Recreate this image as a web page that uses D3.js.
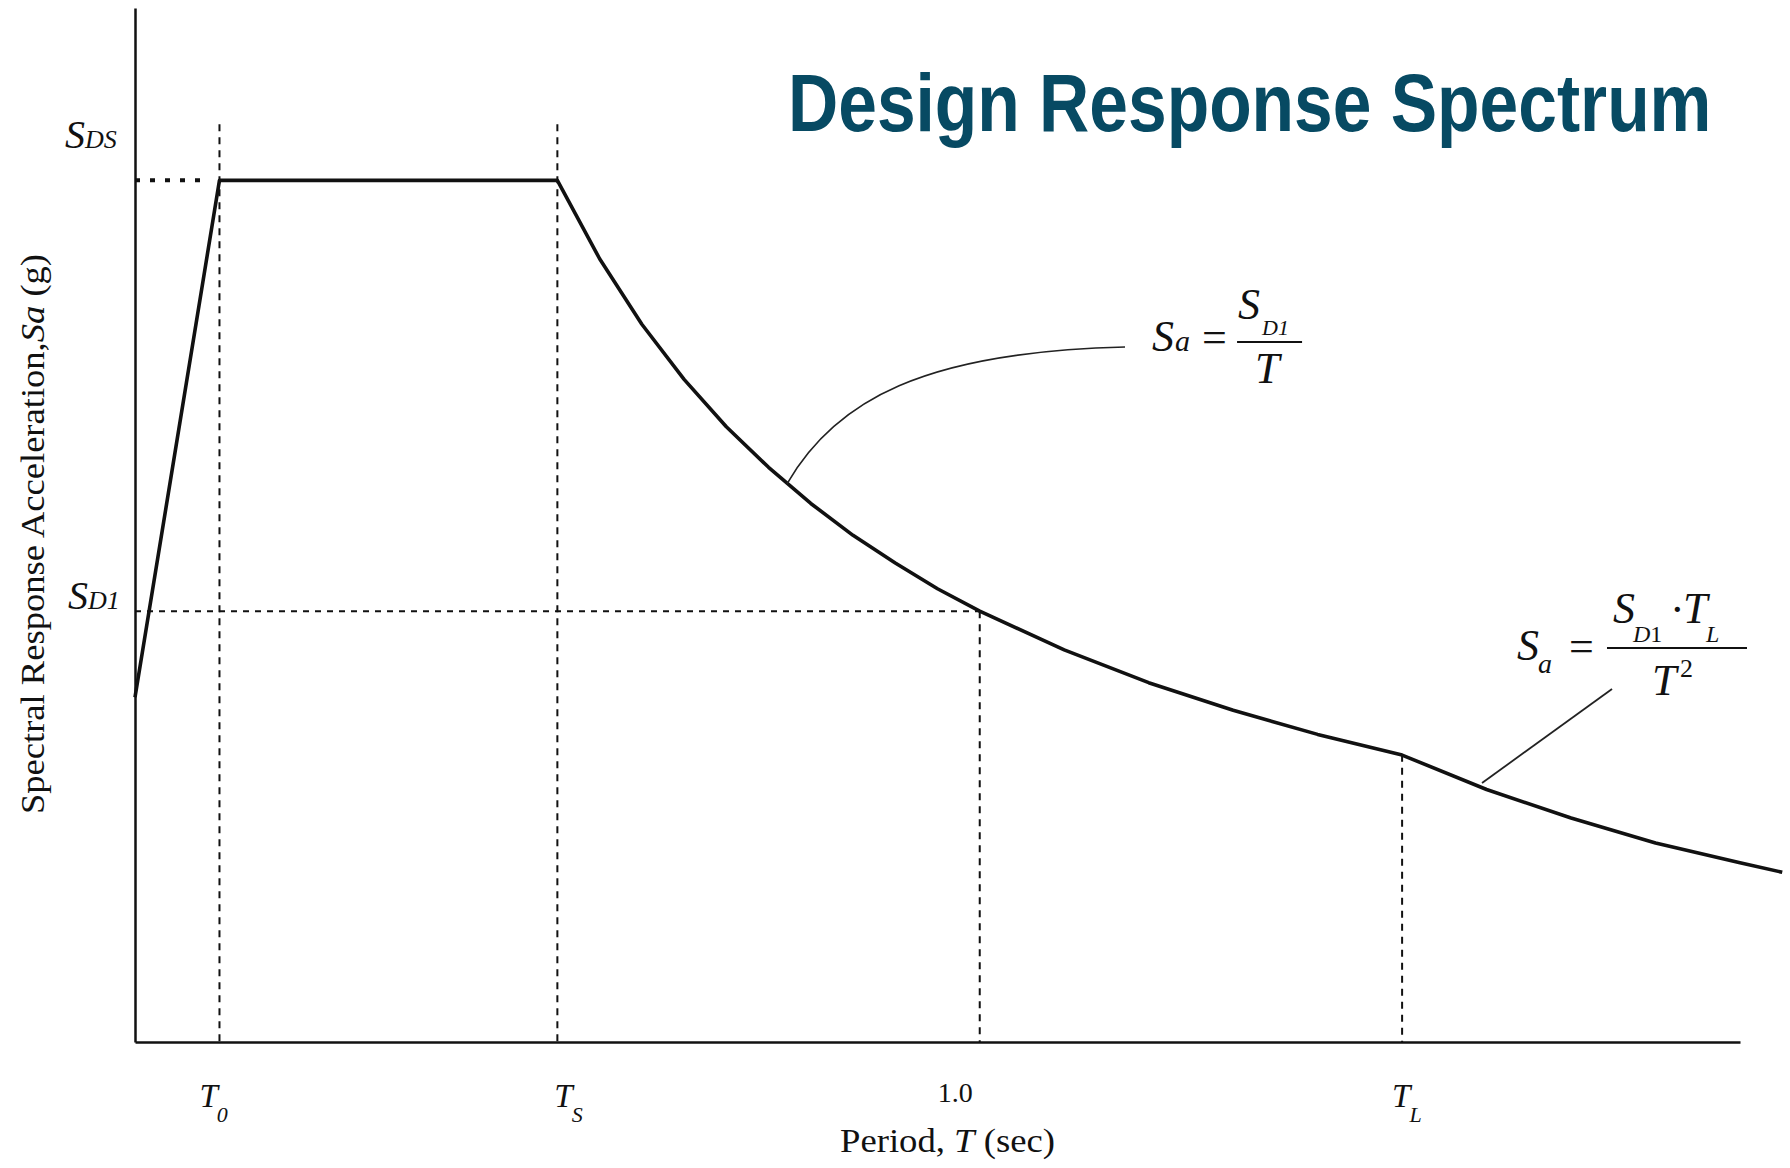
<!DOCTYPE html>
<html><head><meta charset="utf-8">
<script src="https://cdn.jsdelivr.net/npm/d3@7"></script>
<style>
html,body{margin:0;padding:0;background:#fff;}
svg{display:block;}
text{font-family:"Liberation Serif","Times New Roman",serif;fill:#111;}
.it{font-style:italic;}
</style>
</head><body>
<svg id="chart" width="1790" height="1168"></svg>
<script>
// ---- data ----
const periods     = [0, 0.1, 0.5, 0.55, 0.6, 0.65, 0.7, 0.75, 0.8, 0.85, 0.9, 0.95, 1.0, 1.1, 1.2, 1.3, 1.4, 1.5, 1.6, 1.7, 1.8, 1.9, 1.95];
const spectralAcc = [0.4, 1.0, 1.0, 0.909, 0.833, 0.769, 0.714, 0.667, 0.625, 0.588, 0.556, 0.526, 0.5, 0.455, 0.417, 0.385, 0.357, 0.333, 0.293, 0.260, 0.231, 0.208, 0.197];
const T0 = 0.1, TS = 0.5, T1 = 1.0, TL = 1.5;
const SDS = 1.0, SD1 = 0.5;
const xTickValues = [T0, TS, T1, TL];
const xTickMain   = ["T", "T", "1.0", "T"];
const xTickSub    = ["0", "S", "", "L"];
const yLevelValues = [SDS, SD1];
const yLevelSub    = ["DS", "D1"];
const guideTop = 1.065;
const leader1T  = [0.772, 0.829, 0.935, 1.172];
const leader1Sa = [0.648, 0.745, 0.801, 0.8065];
const leader2T  = [1.5946, 1.7485];
const leader2Sa = [0.3006, 0.4097];
const formula1Anchor = [1.204, 0.802];
const formula2Anchor = [1.636, 0.4433];
const titleText = "Design Response Spectrum";
const xTitle = "Period, ";
const yTitle = "Spectral Response Acceleration,";

// ---- scales ----
const svg = d3.select("#chart");
const x = d3.scaleLinear().domain([0, 1.9]).range([135, 1740]);
const y = d3.scaleLinear().domain([0, 1.2]).range([1042, 8]);

// ---- axes (no ticks) ----
svg.append("g").attr("transform", `translate(0,${y(0)})`)
  .call(d3.axisBottom(x).tickValues([]).tickSizeOuter(0))
  .call(g => g.select(".domain").attr("stroke", "#111").attr("stroke-width", 2.5));
svg.append("g").attr("transform", `translate(${x(0)},0)`)
  .call(d3.axisLeft(y).tickValues([]).tickSizeOuter(0))
  .call(g => g.select(".domain").attr("stroke", "#111").attr("stroke-width", 2.5));

// ---- guide lines ----
const guides = svg.append("g").attr("fill", "none").attr("stroke", "#111");
guides.append("line").attr("x1", x(0)).attr("x2", x(T0) - 18).attr("y1", y(SDS)).attr("y2", y(SDS))
  .attr("stroke-width", 4).attr("stroke-dasharray", "5,10");
guides.append("line").attr("x1", x(0)).attr("x2", x(T1)).attr("y1", y(SD1)).attr("y2", y(SD1))
  .attr("stroke-width", 2).attr("stroke-dasharray", "6,6");
[[T0, guideTop], [TS, guideTop], [T1, SD1], [TL, SD1 / TL]].forEach(([t, top]) => {
  guides.append("line").attr("x1", x(t)).attr("x2", x(t)).attr("y1", y(top)).attr("y2", y(0))
    .attr("stroke-width", 2).attr("stroke-dasharray", "7,6");
});

// ---- spectrum curve ----
const pts = periods.map((t, i) => [t, spectralAcc[i]]);
const line = d3.line().x(d => x(d[0])).y(d => y(d[1])).curve(d3.curveLinear);
svg.append("path").datum(pts).attr("d", line)
  .attr("fill", "none").attr("stroke", "#111").attr("stroke-width", 3.6).attr("stroke-linejoin", "round");

// ---- leader lines ----
const p = d3.path();
p.moveTo(x(leader1T[0]), y(leader1Sa[0]));
p.bezierCurveTo(x(leader1T[1]), y(leader1Sa[1]), x(leader1T[2]), y(leader1Sa[2]), x(leader1T[3]), y(leader1Sa[3]));
svg.append("path").attr("d", p.toString()).attr("fill", "none").attr("stroke", "#222").attr("stroke-width", 1.6);
svg.append("line").attr("x1", x(leader2T[0])).attr("y1", y(leader2Sa[0]))
  .attr("x2", x(leader2T[1])).attr("y2", y(leader2Sa[1])).attr("stroke", "#222").attr("stroke-width", 1.8);

// ---- x tick labels ----
const xLabelDx = [-20, -3, -42, -10];
xTickValues.forEach((v, i) => {
  const isNum = xTickSub[i] === "";
  const t = svg.append("text").attr("x", x(v) + xLabelDx[i]).attr("y", isNum ? 1102 : 1107)
    .attr("font-size", isNum ? 28 : 33);
  t.append("tspan").attr("class", isNum ? "" : "it").text(xTickMain[i]);
  if (!isNum) t.append("tspan").attr("class", "it").attr("font-size", 22).attr("dy", 15).attr("dx", -1).text(xTickSub[i]);
});

// ---- y level labels ----
const yLabelDx = [65, 68], yLabelDy = [-32, -2];
yLevelValues.forEach((v, i) => {
  const t = svg.append("text").attr("x", yLabelDx[i]).attr("y", y(v) + yLabelDy[i]).attr("class", "it");
  t.append("tspan").attr("font-size", 40).text("S");
  t.append("tspan").attr("font-size", 26).text(yLevelSub[i]);
});

// ---- axis titles ----
const xt = svg.append("text").attr("x", 840).attr("y", 1152).attr("font-size", 34)
  .attr("textLength", 215).attr("lengthAdjust", "spacingAndGlyphs");
xt.append("tspan").text(xTitle);
xt.append("tspan").attr("class", "it").text("T");
xt.append("tspan").text(" (sec)");

const yt = svg.append("text").attr("transform", "translate(44,534) rotate(-90)")
  .attr("text-anchor", "middle").attr("font-size", 34)
  .attr("textLength", 560).attr("lengthAdjust", "spacingAndGlyphs");
yt.append("tspan").text(yTitle);
yt.append("tspan").attr("class", "it").text("Sa");
yt.append("tspan").text(" (g)");

// ---- formula 1: Sa = SD1 / T ----
const f1 = svg.append("g").attr("transform", `translate(${x(formula1Anchor[0])},${y(formula1Anchor[1])})`);
const f1l = f1.append("text").attr("class", "it");
f1l.append("tspan").attr("font-size", 44).text("S");
f1l.append("tspan").attr("font-size", 30).attr("dx", 1).text("a");
f1.append("text").attr("x", 50).attr("y", 1).attr("font-size", 44).text("=");
f1.append("line").attr("x1", 85).attr("x2", 150).attr("y1", -9).attr("y2", -9).attr("stroke", "#111").attr("stroke-width", 2);
f1.append("text").attr("class", "it").attr("x", 86).attr("y", -32).attr("font-size", 44).text("S");
f1.append("text").attr("class", "it").attr("x", 110).attr("y", -16).attr("font-size", 22).text("D1");
f1.append("text").attr("class", "it").attr("x", 103).attr("y", 32).attr("font-size", 44).text("T");

// ---- formula 2: Sa = SD1·TL / T^2 ----
const f2 = svg.append("g").attr("transform", `translate(${x(formula2Anchor[0])},${y(formula2Anchor[1])})`);
f2.append("text").attr("class", "it").attr("font-size", 44).text("S");
f2.append("text").attr("class", "it").attr("x", 21).attr("y", 13).attr("font-size", 28).text("a");
f2.append("text").attr("x", 52).attr("y", 1).attr("font-size", 44).text("=");
f2.append("line").attr("x1", 90).attr("x2", 230).attr("y1", -12).attr("y2", -12).attr("stroke", "#111").attr("stroke-width", 2.2);
f2.append("text").attr("class", "it").attr("x", 96).attr("y", -37).attr("font-size", 44).text("S");
const d1 = f2.append("text").attr("x", 116).attr("y", -18).attr("font-size", 24);
d1.append("tspan").attr("class", "it").text("D");
d1.append("tspan").text("1");
f2.append("text").attr("x", 153).attr("y", -36).attr("font-size", 44).text("·");
f2.append("text").attr("class", "it").attr("x", 166).attr("y", -37).attr("font-size", 44).text("T");
f2.append("text").attr("class", "it").attr("x", 189).attr("y", -18).attr("font-size", 24).text("L");
f2.append("text").attr("class", "it").attr("x", 135).attr("y", 35).attr("font-size", 44).text("T");
f2.append("text").attr("x", 163).attr("y", 17).attr("font-size", 26).text("2");

// ---- title (condensed bold sans) ----
svg.append("text").attr("transform", "translate(788,131) scale(0.848,1)")
  .style("font-family", '"Liberation Sans", Arial, sans-serif').style("font-weight", "bold")
  .style("fill", "#074a63").attr("font-size", 82)
  .text(titleText);
</script>
</body></html>
